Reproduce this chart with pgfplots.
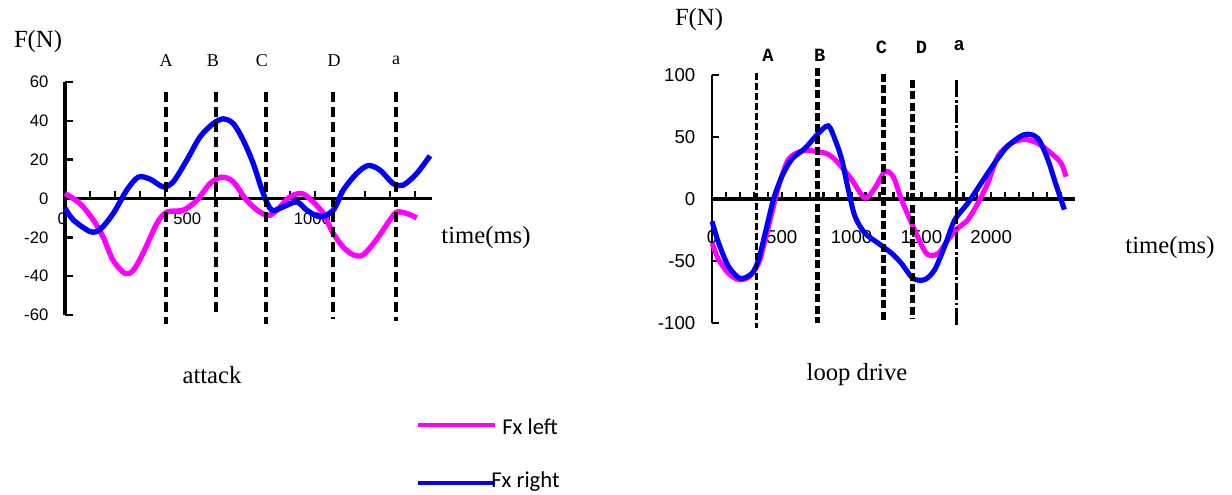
\documentclass[border=0pt]{standalone}
\usepackage{fontspec}
\setmainfont{Liberation Serif}
\setsansfont{Liberation Sans}
\newfontfamily\calfont{Carlito}
\newfontfamily\monofont{Liberation Mono}
\usepackage{pgfplots}
\pgfplotsset{compat=1.18}
\definecolor{fxleft}{RGB}{255,0,255}
\definecolor{fxright}{RGB}{0,0,255}

\pgfplotsset{
  forcechart/.style={
    scale only axis,
    axis lines=middle,
    axis line style={-, line width=2.8pt},
    tick align=inside,
    major tick length=6pt, minor tick length=6pt,
    every tick/.style={black, line width=1.8pt},
    hide obscured x ticks=false, hide obscured y ticks=false,
    clip=false,
    /pgf/number format/assume math mode=true,
    /pgf/number format/1000 sep={},
  },
}
\tikzset{evline/.style={black, line width=2.4pt, dash pattern=on 7.5pt off 3.75pt}}

\begin{document}
\begin{tikzpicture}
\path[use as bounding box] (0,0) rectangle (924pt,-370.5pt);

% ---------- attack ----------
\begin{axis}[forcechart,
  at={(48.75pt,-236.25pt)}, anchor=south west,
  width=275.25pt, height=174.75pt,
  xmin=0, xmax=1468, ymin=-60, ymax=60,
  xtick={0,500,1000}, minor xtick={100,200,...,1400},
  ytick={-60,-40,...,60},
  ticklabel style={font=\sffamily\fontsize{12.5}{13}\selectfont},
  xticklabel style={yshift=-7pt, xshift=-2pt},
  yticklabel style={xshift=-9pt},
]
\addplot[fxleft, line width=4pt, smooth] coordinates {
  (0,2.6) (60,-2.6) (113,-11) (153,-20) (193,-32) (240,-38.6) (273,-37)
  (313,-28) (367,-13) (407,-7) (473,-6) (527,-1) (580,7.7) (627,11)
  (673,8.6) (727,-1) (780,-7) (820,-8.6) (860,-4.3) (900,0.9) (947,2.6)
  (987,-1) (1033,-7.7) (1073,-18) (1113,-25) (1153,-29) (1193,-29)
  (1247,-21) (1300,-11) (1327,-7) (1367,-7.7) (1407,-10)
};
\addplot[fxright, line width=4pt, smooth] coordinates {
  (0,-5) (33,-11) (100,-17) (140,-16) (193,-7.7) (247,4.3) (293,11)
  (340,10) (393,6) (433,8.6) (487,19.7) (540,31.7) (593,38.6) (633,41)
  (673,38.6) (713,30) (753,18) (793,2.6) (827,-6) (873,-4.3) (927,-1.7)
  (967,-6) (1020,-9.4) (1073,-6) (1113,4.3) (1167,12.9) (1213,17)
  (1260,14.6) (1313,7.7) (1353,6.9) (1407,12.9) (1460,22)
};
\draw[evline] (axis cs:404,54.6) -- (axis cs:404,-64.4);
\draw[evline] (axis cs:604,54.6) -- (axis cs:604,-61);
\draw[evline] (axis cs:804,54.6) -- (axis cs:804,-64.4);
\draw[evline] (axis cs:1072,54.6) -- (axis cs:1072,-62);
\draw[evline] (axis cs:1324,54.6) -- (axis cs:1324,-63);
\begin{scope}[every node/.style={font=\fontsize{13.5}{14}\selectfont}]
\node at (axis cs:404,71) {A};
\node at (axis cs:592,71) {B};
\node at (axis cs:788,71) {C};
\node at (axis cs:1076,71) {D};
\node at (axis cs:1324,71) {a};
\end{scope}
\end{axis}

% ---------- loop drive ----------
\begin{axis}[forcechart,
  at={(534pt,-242.25pt)}, anchor=south west,
  width=272.25pt, height=186pt,
  xmin=0, xmax=2600, ymin=-100, ymax=100,
  x axis line style={line width=3pt},
  y axis line style={line width=1.5pt},
  major tick length=5pt, minor tick length=5pt,
  ytick style={line width=1.1pt},
  xtick={0,500,1000,1500,2000}, minor xtick={100,200,...,2500},
  ytick={-100,-50,0,50,100},
  ticklabel style={font=\sffamily\fontsize{14}{15}\selectfont},
  xticklabel style={yshift=-20pt},
  yticklabel style={xshift=-9pt},
]
\addplot[fxleft, line width=3.8pt, smooth] coordinates {
  (0,-35.6) (48,-49) (119,-60) (190,-65) (262,-63) (333,-52) (369,-38)
  (429,-11) (476,10) (548,32) (643,38.6) (738,38.6) (833,36) (905,29)
  (1000,15.7) (1095,0.8) (1167,8.9) (1238,22) (1298,18) (1357,-0.5)
  (1428,-19) (1500,-37) (1548,-45) (1619,-44) (1690,-33) (1762,-23.5)
  (1833,-16.7) (1905,-3.2) (1976,13) (2048,34.6) (2143,45) (2238,48)
  (2333,45) (2428,37) (2500,29) (2536,18)
};
\addplot[fxright, line width=3.8pt, smooth] coordinates {
  (0,-18) (48,-35.6) (119,-54.5) (202,-64) (286,-60) (333,-49) (381,-27.5)
  (440,-0.5) (500,18) (571,32) (667,41) (762,53) (833,59) (881,48)
  (929,32) (976,7.6) (1024,-14) (1095,-27.5) (1190,-35.6) (1286,-43.7)
  (1357,-52) (1440,-64) (1524,-65) (1595,-57) (1667,-38) (1738,-17)
  (1833,-3.2) (1929,13) (2024,29) (2119,42.7) (2238,52) (2333,49)
  (2405,32) (2452,15.7) (2524,-8.6)
};
\draw[black, line width=2pt, dash pattern=on 5.5pt off 2pt]
  (axis cs:320,102) -- (axis cs:320,-104);
\draw[black, line width=4pt, dash pattern=on 6pt off 2.5pt]
  (axis cs:757,106) -- (axis cs:757,-100);
\draw[black, line width=3.4pt, dash pattern=on 6pt off 2.5pt]
  (axis cs:1227,101) -- (axis cs:1227,-100);
\draw[black, line width=3.8pt, dash pattern=on 6pt off 2.5pt]
  (axis cs:1438,96) -- (axis cs:1438,-96);
\draw[black, line width=2pt, dash pattern=on 13pt off 2pt on 2pt off 2pt]
  (axis cs:1753,96) -- (axis cs:1753,-103);
\begin{scope}[every node/.style={font=\monofont\bfseries\fontsize{14}{15}\selectfont}]
\node at (axis cs:400,116) {A};
\node at (axis cs:771,116) {B};
\node at (axis cs:1214,122) {C};
\node at (axis cs:1500,122) {D};
\node at (axis cs:1771,124) {a};
\end{scope}
\end{axis}

% ---------- texts ----------
\begin{scope}[every node/.style={font=\fontsize{18.5}{20}\selectfont}]
\node at (28.5pt,-31.5pt) {F(N)};
\node at (524.25pt,-15pt) {F(N)};
\node at (364.5pt,-178.5pt) {time(ms)};
\node at (877.5pt,-186pt) {time(ms)};
\node at (159pt,-281.25pt) {attack};
\node at (642.75pt,-281.25pt) {loop drive};
\end{scope}

% ---------- legend ----------
\draw[fxleft, line width=3pt] (313.5pt,-318.75pt) -- (371.25pt,-318.75pt);
\node[anchor=west, inner sep=0pt, font=\calfont\fontsize{17}{18}\selectfont]
  at (376.5pt,-320.25pt) {Fx left};
\draw[fxright, line width=3pt] (313.5pt,-362.25pt) -- (371.25pt,-362.25pt);
\node[anchor=west, inner sep=0pt, font=\calfont\fontsize{17}{18}\selectfont]
  at (368.25pt,-361.5pt) {Fx right};
\end{tikzpicture}
\end{document}
